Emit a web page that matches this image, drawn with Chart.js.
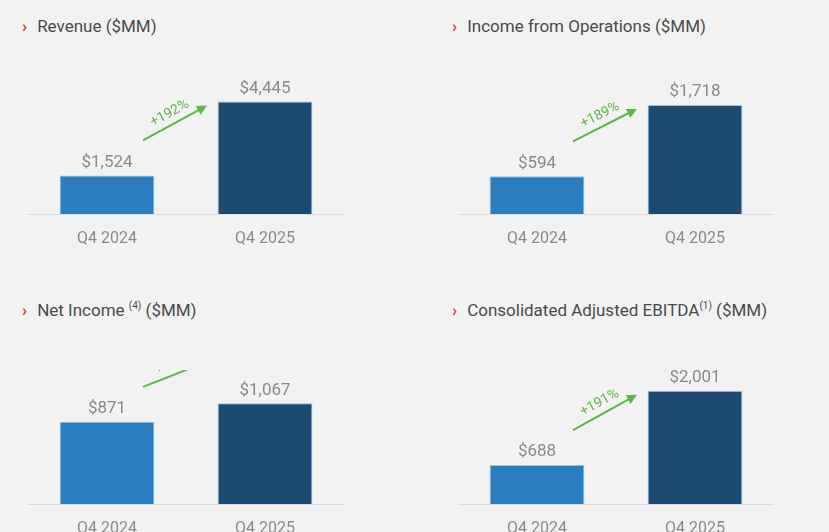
<!DOCTYPE html>
<html>
<head>
<meta charset="utf-8">
<script src="https://cdn.jsdelivr.net/npm/chart.js@4"></script>
<style>
  body { margin: 0; width: 829px; height: 532px; background: #f2f2f2; font-family: Roboto, "Noto Sans", sans-serif; position: relative; overflow: hidden; }
  .title { position: absolute; font-size: 17px; color: #4a4a4a; white-space: nowrap; }
  .title .chev { color: #e0413a; font-weight: bold; margin-right: 10px; }
  .title sup { font-size: 10px; }
  canvas { position: absolute; }
</style>
</head>
<body>
<div class="title" style="left:22px;top:16px"><span class="chev">&#8250;</span>Revenue ($MM)</div>
<div class="title" style="left:452px;top:16px"><span class="chev">&#8250;</span>Income from Operations ($MM)</div>
<div class="title" style="left:22px;top:300px"><span class="chev">&#8250;</span>Net Income <sup>(4)</sup> ($MM)</div>
<div class="title" style="left:452px;top:300px"><span class="chev">&#8250;</span>Consolidated Adjusted EBITDA<sup>(1)</sup> ($MM)</div>

<div style="position:absolute;left:28px;top:80px;width:316px;height:174px"><canvas id="c1"></canvas></div>
<div style="position:absolute;left:458px;top:80px;width:316px;height:174px"><canvas id="c2"></canvas></div>
<div style="position:absolute;left:28px;top:370px;width:316px;height:174px"><canvas id="c3"></canvas></div>
<div style="position:absolute;left:458px;top:370px;width:316px;height:174px"><canvas id="c4"></canvas></div>

<script>
// Data
const categories = ['Q4 2024', 'Q4 2025'];
const revenue = [1524, 4445];
const incomeOps = [594, 1718];
const netIncome = [871, 1067];
const adjEbitda = [688, 2001];
const growthLabels = ['+192%', '+189%', '+23%', '+191%'];
// axis tops so bar heights follow the picture
const axisMax = [5300, 2110, 1420, 2370];

const barColors = ['#2a7dbf', '#1c4a70'];

// Draw value labels, category labels, baseline and growth arrow
const decorPlugin = {
    id: 'decor',
    afterDatasetsDraw(chart, args, opts) {
        const ctx = chart.ctx;
        const area = chart.chartArea;
        const bars = chart.getDatasetMeta(0).data;
        const values = chart.data.datasets[0].data;

        ctx.save();
        // baseline
        ctx.strokeStyle = '#dcdcdc';
        ctx.lineWidth = 1;
        ctx.beginPath();
        ctx.moveTo(area.left, area.bottom + 0.5);
        ctx.lineTo(area.right, area.bottom + 0.5);
        ctx.stroke();

        ctx.fillStyle = '#8a8a8a';
        ctx.textAlign = 'center';
        ctx.textBaseline = 'middle';
        bars.forEach((bar, i) => {
            ctx.font = '17px Roboto';
            ctx.fillText('$' + values[i].toLocaleString('en-US'), bar.x, bar.y - 13);
            ctx.font = '16px Roboto';
            ctx.fillText(chart.data.labels[i], bar.x, area.bottom + 25);
        });

        // growth arrow
        const x1 = bars[0].x + 36, y1 = bars[0].y - 35;
        const x2 = bars[1].x - 58;
        const y2 = Math.min(bars[1].y + 4, y1 - 25);
        const ang = Math.atan2(y2 - y1, x2 - x1);
        ctx.strokeStyle = '#5fb548';
        ctx.fillStyle = '#5fb548';
        ctx.lineWidth = 2;
        ctx.beginPath();
        ctx.moveTo(x1, y1);
        ctx.lineTo(x2 - 8 * Math.cos(ang), y2 - 8 * Math.sin(ang));
        ctx.stroke();
        ctx.beginPath();
        ctx.moveTo(x2, y2);
        ctx.lineTo(x2 - 10 * Math.cos(ang) + 5 * Math.sin(ang), y2 - 10 * Math.sin(ang) - 5 * Math.cos(ang));
        ctx.lineTo(x2 - 10 * Math.cos(ang) - 5 * Math.sin(ang), y2 - 10 * Math.sin(ang) + 5 * Math.cos(ang));
        ctx.closePath();
        ctx.fill();

        ctx.translate((x1 + x2) / 2, (y1 + y2) / 2);
        ctx.rotate(ang);
        ctx.font = '14px Roboto';
        ctx.fillText(opts.growth, 0, -11);
        ctx.restore();
    }
};

function makeChart(id, values, max, growth) {
    return new Chart(document.getElementById(id), {
        type: 'bar',
        data: {
            labels: categories,
            datasets: [{
                data: values,
                backgroundColor: barColors,
                borderColor: '#9cc3e0',
                borderWidth: 1,
                barPercentage: 0.6,
                categoryPercentage: 1
            }]
        },
        options: {
            responsive: true,
            maintainAspectRatio: false,
            animation: false,
            layout: { padding: { top: 0, bottom: 40, left: 0, right: 0 } },
            scales: {
                x: { display: false },
                y: { display: false, min: 0, max: max }
            },
            plugins: {
                legend: { display: false },
                tooltip: { enabled: false },
                decor: { growth: growth }
            }
        },
        plugins: [decorPlugin]
    });
}

makeChart('c1', revenue, axisMax[0], growthLabels[0]);
makeChart('c2', incomeOps, axisMax[1], growthLabels[1]);
makeChart('c3', netIncome, axisMax[2], growthLabels[2]);
makeChart('c4', adjEbitda, axisMax[3], growthLabels[3]);
</script>
</body>
</html>
